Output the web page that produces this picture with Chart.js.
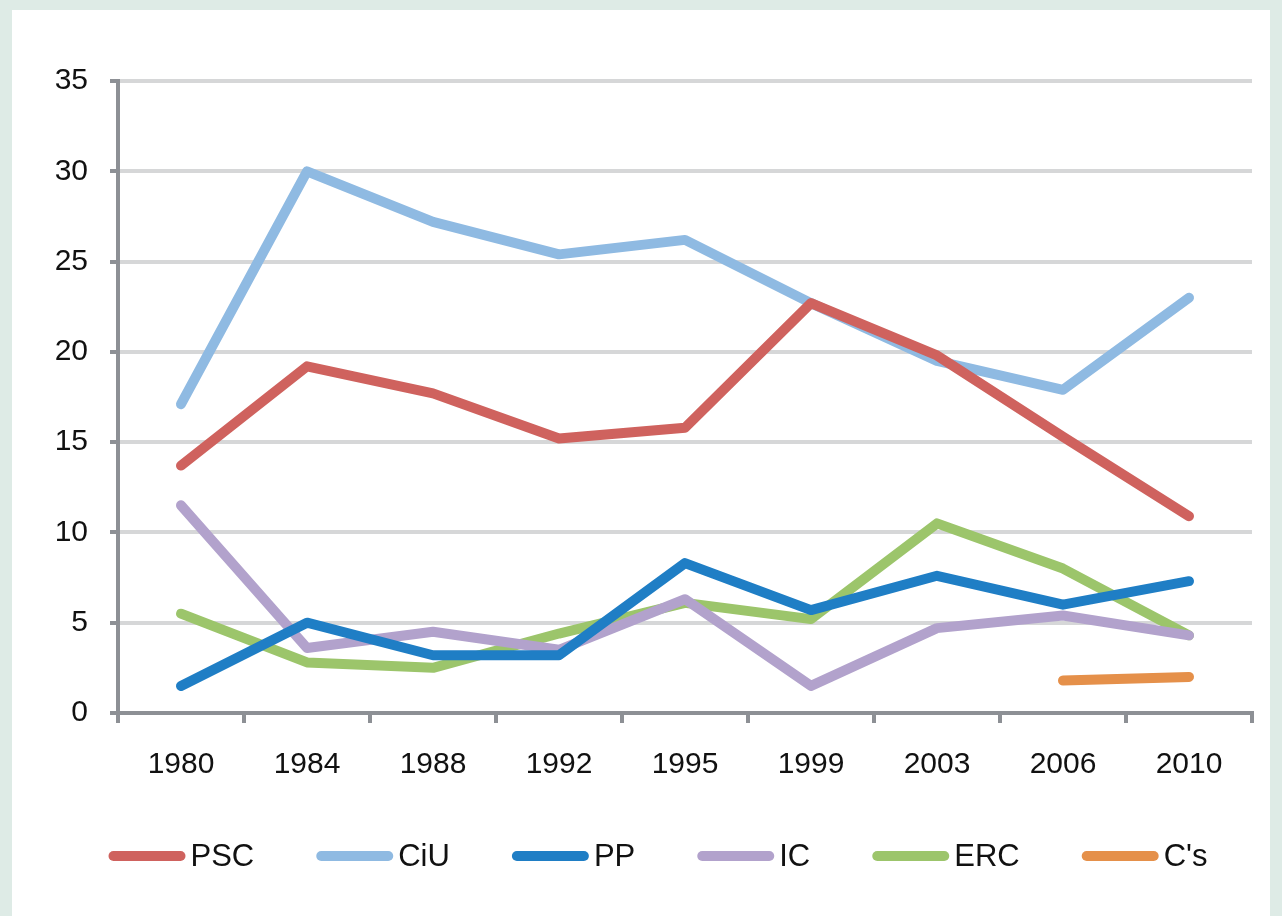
<!DOCTYPE html>
<html lang="es">
<head>
<meta charset="UTF-8">
<title>Elecciones Cataluña</title>
<script src="https://cdn.jsdelivr.net/npm/chart.js"></script>
<style>
  html, body { margin: 0; padding: 0; }
  body { background: #deebe6; width: 1282px; height: 916px; overflow: hidden; position: relative; }
  .panel { position: absolute; left: 12px; top: 10px; width: 1258px; height: 906px; background: #fff; }
</style>
</head>
<body>
<div class="panel">
  <canvas id="chart"></canvas>
</div>
<script>
  // años de elecciones
  const years = ['1980', '1984', '1988', '1992', '1995', '1999', '2003', '2006', '2010'];

  const psc = [13.7, 19.2, 17.7, 15.2, 15.8, 22.7, 19.8, 15.3, 10.9];
  const ciu = [17.1, 30.0, 27.2, 25.4, 26.2, 22.7, 19.5, 17.9, 23.0];
  const pp  = [1.5, 5.0, 3.2, 3.2, 8.3, 5.7, 7.6, 6.0, 7.3];
  const ic  = [11.5, 3.6, 4.5, 3.5, 6.3, 1.5, 4.7, 5.4, 4.3];
  const erc = [5.5, 2.8, 2.5, 4.4, 6.1, 5.2, 10.5, 8.0, 4.3];
  const cs  = [null, null, null, null, null, null, null, 1.8, 2.0];

  const yTicks = [0, 5, 10, 15, 20, 25, 30, 35];

  const axisGray = '#8d9095';
  const gridGray = '#d6d7d8';
  const font = "'Liberation Sans', Arial, sans-serif";

  function serie(label, data, color) {
    return {
      label: label,
      data: data,
      borderColor: color,
      backgroundColor: color,
      borderWidth: 10,
      pointRadius: 0,
      tension: 0,
      borderJoinStyle: 'round',
      borderCapStyle: 'round',
      spanGaps: false
    };
  }

  // leyenda abajo: línea gruesa + texto pegado, como en el original
  const bottomLegend = {
    id: 'bottomLegend',
    afterDraw(chart) {
      const ctx = chart.ctx;
      const lineLen = 77, gapText = 5, gapItem = 62, y = 846;
      ctx.save();
      ctx.font = '31px ' + font;
      const items = chart.data.datasets.map(ds => ({ text: ds.label, color: ds.borderColor, w: ctx.measureText(ds.label).width }));
      const total = items.reduce((s, it) => s + lineLen + gapText + it.w, 0) + gapItem * (items.length - 1);
      let x = 646 - total / 2;
      ctx.textBaseline = 'middle';
      ctx.lineCap = 'round';
      ctx.lineWidth = 10;
      items.forEach(it => {
        ctx.strokeStyle = it.color;
        ctx.beginPath();
        ctx.moveTo(x + 5, y);
        ctx.lineTo(x + lineLen - 5, y);
        ctx.stroke();
        ctx.fillStyle = '#111';
        ctx.fillText(it.text, x + lineLen + gapText, y + 1);
        x += lineLen + gapText + it.w + gapItem;
      });
      ctx.restore();
    }
  };

  new Chart(document.getElementById('chart'), {
    type: 'line',
    data: {
      labels: years,
      datasets: [
        serie('PSC', psc, '#cf625e'),
        serie('CiU', ciu, '#8fbae2'),
        serie('PP', pp, '#1f7ec5'),
        serie('IC', ic, '#b2a2cc'),
        serie('ERC', erc, '#9cc56b'),
        serie("C's", cs, '#e5904a')
      ]
    },
    plugins: [bottomLegend],
    options: {
      responsive: true,
      maintainAspectRatio: false,
      animation: false,
      layout: { padding: { left: 0, right: 18, top: 71, bottom: 109 } },
      plugins: {
        tooltip: { enabled: false },
        legend: { display: false }
      },
      scales: {
        x: {
          offset: true,
          grid: {
            offset: true,
            drawOnChartArea: false,
            color: axisGray,
            lineWidth: 4,
            tickLength: 10
          },
          border: { color: axisGray, width: 4 },
          ticks: { font: { family: font, size: 30 }, color: '#111', padding: 24, maxRotation: 0 }
        },
        y: {
          min: 0,
          max: 35,
          afterFit: s => { s.width = 106; },
          afterBuildTicks: s => { s.ticks = yTicks.map(v => ({ value: v })); },
          grid: {
            color: gridGray,
            lineWidth: 4,
            tickColor: axisGray,
            tickLength: 8
          },
          border: { color: axisGray, width: 4 },
          ticks: { font: { family: font, size: 30 }, color: '#111', padding: 22 }
        }
      }
    }
  });
</script>
</body>
</html>
